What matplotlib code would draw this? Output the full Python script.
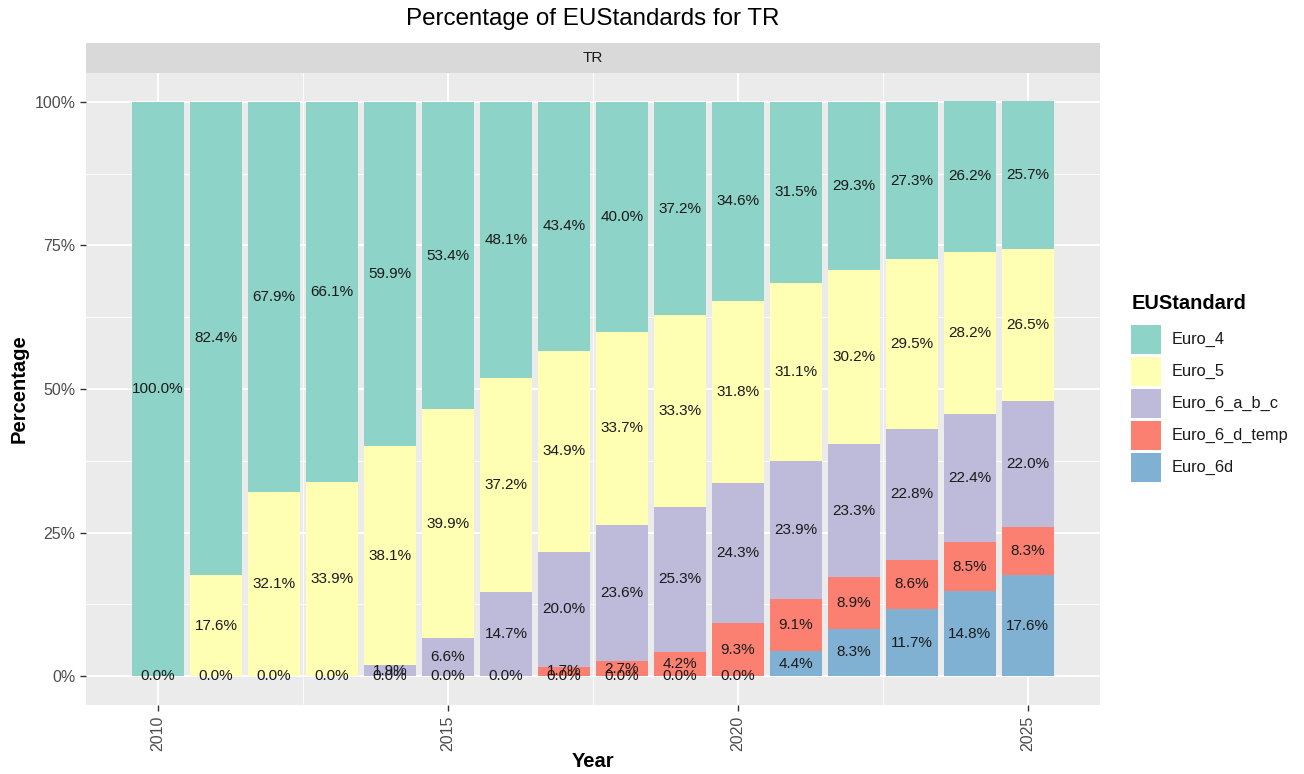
import matplotlib
matplotlib.use('Agg')
import matplotlib.pyplot as plt
from matplotlib.patches import Rectangle
import numpy as np

plt.rcParams['font.family'] = ['Liberation Sans', 'DejaVu Sans']

years = list(range(2010, 2026))
standards = ['Euro_4', 'Euro_5', 'Euro_6_a_b_c', 'Euro_6_d_temp', 'Euro_6d']
colors = ['#8DD3C7', '#FFFFB3', '#BEBADA', '#FB8072', '#80B1D3']

euro_4 = [100.0, 82.4, 67.9, 66.1, 59.9, 53.4, 48.1, 43.4, 40.0, 37.2, 34.6, 31.5, 29.3, 27.3, 26.2, 25.7]
euro_5 = [0.0, 17.6, 32.1, 33.9, 38.1, 39.9, 37.2, 34.9, 33.7, 33.3, 31.8, 31.1, 30.2, 29.5, 28.2, 26.5]
euro_6_abc = [0.0, 0.0, 0.0, 0.0, 1.9, 6.6, 14.7, 20.0, 23.6, 25.3, 24.3, 23.9, 23.3, 22.8, 22.4, 22.0]
euro_6_d_temp = [0.0, 0.0, 0.0, 0.0, 0.0, 0.0, 0.0, 1.7, 2.7, 4.2, 9.3, 9.1, 8.9, 8.6, 8.5, 8.3]
euro_6d = [0.0, 0.0, 0.0, 0.0, 0.0, 0.0, 0.0, 0.0, 0.0, 0.0, 0.0, 4.4, 8.3, 11.7, 14.8, 17.6]

W, H = 1304, 774
fig = plt.figure(figsize=(W / 100, H / 100), dpi=100)

# panel position in pixels
px0, px1, py0, py1 = 86, 1100, 73, 705
ax = fig.add_axes([px0 / W, 1 - py1 / H, (px1 - px0) / W, (py1 - py0) / H])
ax.set_facecolor('#EBEBEB')

# stacking: Euro_6d at the bottom, Euro_4 on top
series = [euro_4, euro_5, euro_6_abc, euro_6_d_temp, euro_6d]
bottom = np.zeros(len(years))
zero_done = set()
for name, vals, col in reversed(list(zip(standards, series, colors))):
    vals = np.array(vals)
    ax.bar(years, vals, bottom=bottom, width=0.9, color=col, label=name, zorder=2)
    for x, b, v in zip(years, bottom, vals):
        # identical 0.0% labels stack on the same spot, draw them once
        if v == 0:
            if x in zero_done:
                continue
            zero_done.add(x)
        ax.text(x, b + v / 2, f'{v:.1f}%', ha='center', va='center',
                fontsize=11, color='#1A1A1A', zorder=3)
    bottom = bottom + vals

ax.set_xlim(2008.755, 2026.245)
ax.set_ylim(-5, 105)
ax.set_yticks([0, 25, 50, 75, 100])
ax.set_yticklabels(['0%', '25%', '50%', '75%', '100%'])
ax.set_yticks([12.5, 37.5, 62.5, 87.5], minor=True)
ax.set_xticks([2010, 2015, 2020, 2025])
ax.set_xticklabels(['2010', '2015', '2020', '2025'], rotation=90)
ax.set_xticks([2012.5, 2017.5, 2022.5], minor=True)

ax.grid(which='major', color='white', linewidth=1.3, zorder=0)
ax.grid(which='minor', color='white', linewidth=0.6, zorder=0)
ax.set_axisbelow(True)
for s in ax.spines.values():
    s.set_visible(False)
ax.tick_params(which='major', length=4, color='#333333', labelsize=11.5, labelcolor='#4D4D4D', width=1)
ax.tick_params(which='minor', length=0)

ax.set_xlabel('Year', fontsize=14.5, fontweight='bold', labelpad=1)
ax.set_ylabel('Percentage', fontsize=14.5, fontweight='bold', labelpad=4)

# facet strip
fig.patches.append(Rectangle((px0 / W, 1 - py0 / H), (px1 - px0) / W, 30 / H,
                             transform=fig.transFigure, facecolor='#D9D9D9',
                             edgecolor='none'))
fig.text((px0 + px1) / 2 / W, 1 - 58 / H, 'TR', ha='center', va='center',
         fontsize=11, color='#1A1A1A')

fig.text((px0 + px1) / 2 / W, 1 - 19 / H, 'Percentage of EUStandards for TR',
         ha='center', va='center', fontsize=17.4)

# legend, drawn by hand to match the ggplot guide
fig.text(1132 / W, 1 - 304 / H, 'EUStandard', ha='left', va='center',
         fontsize=14.4, fontweight='bold')
for i, (name, col) in enumerate(zip(standards, colors)):
    top = 325 + 32 * i
    fig.patches.append(Rectangle((1131 / W, 1 - (top + 29) / H), 30 / W, 29 / H,
                                 transform=fig.transFigure, facecolor=col,
                                 edgecolor='none'))
    fig.text(1172 / W, 1 - (top + 14.5) / H, name, ha='left', va='center',
             fontsize=11.8, color='#1A1A1A')

fig.savefig('out.png', dpi=100)
